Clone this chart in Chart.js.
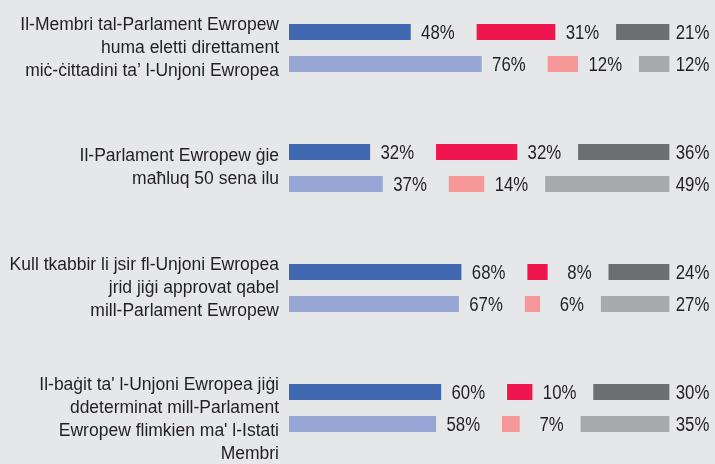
<!DOCTYPE html>
<html lang="mt">
<head>
  <meta charset="UTF-8">
  <title>Parlament Ewropew</title>
  <script src="https://cdn.jsdelivr.net/npm/chart.js"></script>
  <style>
    html, body { margin: 0; padding: 0; background: #e6e7e9; }
    canvas { display: block; }
  </style>
</head>
<body>
  <canvas id="chart" width="715" height="464"></canvas>

  <script>
    const categories = [
      ["Il-Membri tal-Parlament Ewropew", "huma eletti direttament", "miċ-ċittadini ta’ l-Unjoni Ewropea"],
      ["Il-Parlament Ewropew ġie", "maħluq 50 sena ilu"],
      ["Kull tkabbir li jsir fl-Unjoni Ewropea", "jrid jiġi approvat qabel", "mill-Parlament Ewropew"],
      ["", "Il-baġit ta' l-Unjoni Ewropea jiġi", "ddeterminat mill-Parlament", "Ewropew flimkien ma' l-Istati", "Membri"]
    ];

    // top row of each pair (dark colours)
    const trueTop = [48, 32, 68, 60];
    const falseTop = [31, 32, 8, 10];
    const dkTop = [21, 36, 24, 30];

    // bottom row of each pair (light colours)
    const trueBottom = [76, 37, 67, 58];
    const falseBottom = [12, 14, 6, 7];
    const dkBottom = [12, 49, 27, 35];

    // empty space (in % units) left between the segments for the labels
    const gap1 = 26;
    const gap2 = 24;
    const axisMax = 168;

    const spacer = (v) => categories.map(() => v);

    function seg(data, color, stack, col) {
      return { data, backgroundColor: color, stack, col, isValue: true, clip: false };
    }
    function space(v, stack) {
      return { data: spacer(v), backgroundColor: "rgba(0,0,0,0)", stack, isValue: false, clip: false };
    }

    // percent labels, squeezed a bit to look like the narrow face of the original
    const valueLabels = {
      id: "valueLabels",
      afterDatasetsDraw(chart) {
        const ctx = chart.ctx;
        chart.data.datasets.forEach((ds, i) => {
          if (!ds.isValue) return;
          const shift = ds.col === 2 ? 40 : 44;
          chart.getDatasetMeta(i).data.forEach((bar, j) => {
            ctx.save();
            ctx.fillStyle = "#231f20";
            ctx.font = "20px 'Liberation Sans', Arial";
            ctx.textAlign = "right";
            ctx.textBaseline = "middle";
            ctx.translate(bar.x + shift, bar.y + 1);
            ctx.scale(0.84, 1);
            ctx.fillText(ds.data[j] + "%", 0, 0);
            ctx.restore();
          });
        });
      }
    };

    new Chart(document.getElementById("chart"), {
      type: "bar",
      data: {
        labels: categories,
        datasets: [
          seg(trueTop, "#4068b1", "top", 0),
          space(gap1, "top"),
          seg(falseTop, "#ef1650", "top", 1),
          space(gap2, "top"),
          seg(dkTop, "#6d6e70", "top", 2),
          seg(trueBottom, "#98a6d5", "bottom", 0),
          space(gap1, "bottom"),
          seg(falseBottom, "#f59897", "bottom", 1),
          space(gap2, "bottom"),
          seg(dkBottom, "#a8a9ac", "bottom", 2)
        ]
      },
      options: {
        indexAxis: "y",
        responsive: false,
        animation: false,
        categoryPercentage: 0.5333,
        barPercentage: 0.5,
        layout: { padding: { top: 48, bottom: 56, left: 0, right: 0 } },
        plugins: {
          legend: { display: false },
          tooltip: { enabled: false }
        },
        scales: {
          x: { stacked: true, min: 0, max: axisMax, display: false },
          y: {
            stacked: true,
            offset: false,
            grid: { display: false, drawTicks: false },
            border: { display: false },
            afterFit(scale) {
              scale.width = 289;
              // labels may run past the plot area, the layout padding handles it
              scale.paddingTop = 0;
              scale.paddingBottom = 0;
            },
            ticks: {
              autoSkip: false,
              padding: 10,
              color: "#231f20",
              font: { family: "'Liberation Sans', Arial", size: 17.5, lineHeight: 1.33 }
            }
          }
        }
      },
      plugins: [valueLabels]
    });
  </script>
</body>
</html>
